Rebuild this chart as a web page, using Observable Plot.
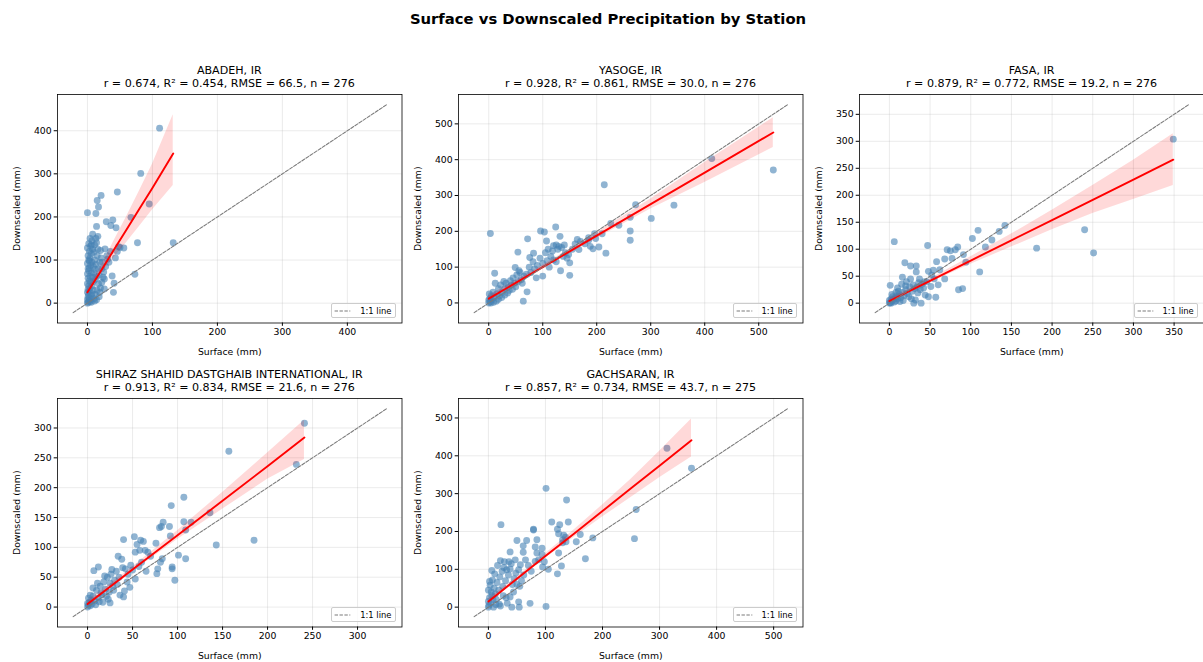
<!DOCTYPE html>
<html>
<head>
<meta charset="utf-8">
<script src="https://cdn.jsdelivr.net/npm/d3@7"></script>
<script src="https://cdn.jsdelivr.net/npm/@observablehq/plot@0.6"></script>
<style>
  html, body { margin: 0; padding: 0; background: #fff; }
  body { width: 1203px; height: 662px; position: relative; overflow: hidden; font-family: "DejaVu Sans", sans-serif; color: #000; }
  .sup { position: absolute; left: 0; width: 1216px; top: 9px; text-align: center; font-weight: bold; font-size: 14.8px; line-height: 20px; }
  .ptitle { position: absolute; text-align: center; font-size: 11.1px; line-height: 13px; white-space: nowrap; transform: translateX(-50%); }
  .panel { position: absolute; }
  .leg { position: absolute; box-sizing: border-box; border: 0.8px solid #cccccc; border-radius: 2px; background: rgba(255,255,255,0.8); font-size: 8.4px; }
  .leg svg { position: absolute; left: 2px; top: 0; }
  .leg span { position: absolute; left: 28px; top: 0; line-height: 14px; white-space: nowrap; }
</style>
</head>
<body>
<div class="sup">Surface vs Downscaled Precipitation by Station</div>
<div id="root"></div>
<script>
// ---------------- DATA ----------------
const stations = ["ABADEH, IR", "YASOGE, IR", "FASA, IR", "SHIRAZ SHAHID DASTGHAIB INTERNATIONAL, IR", "GACHSARAN, IR"];
const statsText = [
  "r = 0.674, R² = 0.454, RMSE = 66.5, n = 276",
  "r = 0.928, R² = 0.861, RMSE = 30.0, n = 276",
  "r = 0.879, R² = 0.772, RMSE = 19.2, n = 276",
  "r = 0.913, R² = 0.834, RMSE = 21.6, n = 276",
  "r = 0.857, R² = 0.734, RMSE = 43.7, n = 275"
];
const xLabel = "Surface (mm)";
const yLabel = "Downscaled (mm)";
const legendLabel = "1:1 line";

const tickValues = [
  [0, 100, 200, 300, 400],
  [0, 100, 200, 300, 400, 500],
  [0, 50, 100, 150, 200, 250, 300, 350],
  [0, 50, 100, 150, 200, 250, 300],
  [0, 100, 200, 300, 400, 500]
];

// 1:1 reference line extents (data units)
const oneToOneLo = [-22, -27, -17.5, -16, -25];
const oneToOneHi = [460, 553, 367.5, 332, 524];

// regression fit and confidence band
const bandX = [
  [0, 20, 40, 60, 80, 100, 132],
  [0, 100, 200, 300, 400, 527],
  [0, 50, 100, 150, 200, 250, 300, 349],
  [0, 50, 100, 150, 200, 241],
  [0, 50, 100, 150, 200, 250, 300, 356]
];
const bandFit = [
  [25, 73, 122, 170, 219, 267, 347],
  [12, 100, 188, 276, 364, 476],
  [4, 41.5, 79, 116.5, 154, 191.5, 229, 266],
  [5, 63, 120.5, 178, 236, 284],
  [15, 75, 135, 194, 254, 314, 374, 441]
];
const bandHi = [
  [32, 82, 142, 200, 260, 322, 437],
  [20, 105, 196, 290, 392, 517],
  [8, 45, 86, 128, 172, 218, 265, 314],
  [10, 67, 128, 192, 258, 313],
  [22, 80, 141, 204, 270, 338, 412, 497]
];
const bandLo = [
  [18, 66, 104, 140, 178, 216, 273],
  [5, 95, 180, 262, 336, 434],
  [0, 38, 72, 104, 136, 166, 192, 218],
  [0, 59, 113, 164, 214, 247],
  [8, 70, 129, 184, 238, 290, 342, 397]
];

// scatter points [surface, downscaled]
const ptsAbadeh = [
  [111,406],[82,301],[95,230],[67,199],[46,258],[21,250],[15,238],[17,223],[0,210],[13,208],[14,178],[29,189],[39,193],[36,180],[44,175],[77,140],[132,140],[56,128],[50,129],[48,131],[43,105],[73,67],[38,63],[41,46],[40,25],[27,126],[26,56],[26,33],[31,102],[20,122],[35,120],[30,110],[33,95],[28,85],[25,72],[22,80],[46,120],
  [0,0],[1,2],[2,5],[0,8],[3,12],[1,15],[4,3],[5,8],[2,20],[0,25],[3,28],[6,18],[1,32],[4,35],[2,40],[0,45],[5,48],[3,52],[7,40],[1,58],[4,62],[0,68],[6,70],[2,75],[8,60],[3,82],[5,88],[0,92],[7,95],[2,100],[9,85],[4,105],[1,110],[6,115],[3,120],[0,128],[8,125],[5,132],[2,138],[7,145],[4,150],[10,70],[12,55],[11,100],[13,90],[15,110],[14,140],[16,155],[9,30],[12,20],[14,8],[18,15],[20,35],[22,48],[17,80],[19,95],[21,105],[24,60],[10,10],[6,2],[15,30],[18,65],[11,135],[13,150],[8,160],[10,118],[16,125],[12,78],[9,50],[17,45],[19,25],[23,95],[6,135],[3,98],[1,80],[11,5],[7,22],[14,62]
];
const ptsYasoge = [
  [413,403],[527,371],[214,330],[272,274],[343,273],[301,236],[262,239],[262,201],[262,175],[226,222],[241,217],[210,193],[217,139],[196,193],[185,175],[188,158],[193,151],[204,156],[164,177],[167,149],[124,212],[132,186],[96,201],[103,198],[107,173],[72,179],[3,194],[54,142],[76,127],[83,139],[133,90],[150,77],[100,75],[71,31],[64,5],[11,83],[49,99],[56,90],
  [120,160],[125,162],[130,158],[135,155],[140,162],[128,150],[118,145],[110,150],[115,130],[120,120],[125,115],[138,130],[145,125],[150,112],[142,140],[148,135],[105,140],[108,118],[112,100],[100,110],[95,125],[90,105],[85,95],[82,115],[78,85],[75,100],[88,70],[70,80],[65,75],[60,65],[58,85],[52,78],[55,60],[48,55],[45,70],[42,50],[40,62],[36,45],[38,35],[32,55],[30,40],[28,60],[25,30],[22,50],[20,20],[18,40],[15,25],[12,55],[10,15],[8,30],[6,8],[5,20],[3,3],[2,12],[1,25],[0,0],[0,8],[4,0],[9,2],[14,5],[18,10],[24,15],[30,22],[35,28],[44,38],[50,45],[62,55],[160,165],[170,172],[178,165],[155,150],[185,182],[198,180]
];
const ptsFasa = [
  [349,304],[240,136],[251,93],[181,102],[142,144],[135,133],[126,117],[118,104],[109,135],[102,120],[111,58],[91,90],[94,76],[90,27],[85,25],[84,104],[81,99],[77,83],[71,99],[75,97],[68,82],[58,77],[60,34],[68,45],[57,11],[47,107],[6,114],[19,75],[26,69],[33,69],[33,58],[16,48],[29,34],[35,19],[39,0],[30,0],[32,6],[1,33],[51,31],[54,61],[52,52],[48,59],[42,28],[44,15],[48,12],[62,62],[55,45],[46,40],[40,35],[38,25],[36,38],[34,30],[31,27],[28,22],[25,30],[22,18],[20,25],[18,14],[16,20],[14,10],[12,16],[10,8],[9,13],[8,4],[7,10],[6,2],[5,7],[4,12],[3,4],[2,8],[1,1],[0,0],[0,5],[2,0],[11,22],[15,35],[21,40],[24,12],[27,8],[10,28],[13,3],[17,5],[37,45],[43,40],[20,32],[26,45],[8,20],[3,16]
];
const ptsShiraz = [
  [241,308],[157,261],[232,239],[185,112],[143,104],[136,158],[107,184],[93,170],[107,143],[115,142],[109,129],[92,119],[91,135],[84,142],[82,135],[80,133],[76,107],[83,81],[81,75],[78,64],[77,56],[94,67],[94,64],[101,87],[109,81],[97,45],[67,92],[64,95],[59,112],[62,110],[52,118],[53,92],[40,113],[34,85],[38,80],[39,66],[42,64],[40,17],[41,27],[47,33],[53,47],[7,61],[12,67],[6,32],[15,24],[23,13],[25,7],[19,52],[27,63],[55,105],[58,95],[60,75],[65,60],[70,85],[48,70],[45,55],[35,50],[30,45],[28,35],[32,60],[25,40],[22,50],[20,30],[18,42],[16,20],[14,35],[12,15],[10,28],[8,10],[6,18],[5,5],[4,12],[3,2],[2,8],[1,15],[0,0],[0,6],[1,3],[3,20],[9,4],[11,40],[13,9],[17,8],[21,18],[24,25],[26,55],[29,28],[33,38],[36,20],[44,42],[50,62],[57,68]
];
const ptsGachsaran = [
  [313,420],[356,367],[259,258],[256,181],[183,183],[161,192],[170,128],[154,173],[137,283],[140,225],[136,173],[132,190],[130,178],[123,194],[125,218],[121,206],[111,225],[101,314],[123,143],[121,88],[128,109],[101,2],[73,10],[53,14],[54,0],[41,0],[22,218],[79,206],[79,204],[85,178],[82,159],[85,143],[94,156],[94,139],[88,125],[82,121],[95,106],[50,176],[67,176],[61,162],[61,145],[38,146],[65,125],[47,125],[38,101],[56,112],[53,99],[32,99],[21,123],[6,97],[31,25],[38,27],[21,3],[13,7],[135,185],[130,170],[105,100],[98,120],[75,95],[70,110],[62,85],[58,70],[55,55],[48,90],[45,75],[42,60],[40,115],[35,85],[30,70],[28,120],[25,55],[24,95],[20,80],[18,45],[16,110],[15,65],[12,35],[11,88],[10,50],[8,20],[7,72],[5,40],[4,10],[3,58],[2,25],[1,5],[0,0],[0,15],[0,45],[2,68],[6,30],[9,0],[14,20],[19,8],[26,30],[33,10],[44,40],[50,60],[27,105],[36,120]
];
const allPoints = [ptsAbadeh, ptsYasoge, ptsFasa, ptsShiraz, ptsGachsaran];

// ---------------- LAYOUT ----------------
const FW = 344.5, FH = 228.5;           // frame size
const ML = 50, MT = 6, MR = 6, MB = 46; // svg margins
const frames = [[57, 94.3], [458.3, 94.3], [859.3, 94.3], [57, 398.3], [458.3, 398.3]];
const root = document.getElementById("root");

stations.forEach((name, i) => {
  const [fl, ft] = frames[i];
  const lo = oneToOneLo[i], hi = oneToOneHi[i], pad = 0.05 * (hi - lo);
  const dom = [lo - pad, hi + pad];
  const band = bandX[i].map((x, j) => ({x, fit: bandFit[i][j], lo: bandLo[i][j], hi: bandHi[i][j]}));
  const ref = [[lo, lo], [hi, hi]];
  const ticks = tickValues[i];

  const plot = Plot.plot({
    width: ML + FW + MR,
    height: MT + FH + MB,
    marginLeft: ML, marginTop: MT, marginRight: MR, marginBottom: MB,
    style: {fontFamily: "DejaVu Sans", fontSize: "9.3px", color: "#000", background: "transparent", overflow: "visible", maxWidth: "none"},
    x: {domain: dom},
    y: {domain: dom},
    marks: [
      Plot.gridX(ticks, {stroke: "#b0b0b0", strokeOpacity: 0.35, strokeWidth: 0.75}),
      Plot.gridY(ticks, {stroke: "#b0b0b0", strokeOpacity: 0.35, strokeWidth: 0.75}),
      Plot.dot(allPoints[i], {x: d => d[0], y: d => d[1], r: 3.45, fill: "#4682b4", fillOpacity: 0.6}),
      Plot.areaY(band, {x: "x", y1: "lo", y2: "hi", fill: "red", fillOpacity: 0.15}),
      Plot.line(band, {x: "x", y: "fit", stroke: "red", strokeWidth: 1.9}),
      Plot.line(ref, {x: d => d[0], y: d => d[1], stroke: "#7a7a7a", strokeWidth: 1.05, strokeDasharray: "3.4,1.5"}),
      Plot.frame({stroke: "#000", strokeWidth: 0.8}),
      Plot.axisX(ticks, {tickSize: 3.3, tickPadding: 2.5, label: null, fontSize: 9.3}),
      Plot.axisY(ticks, {tickSize: 3.3, tickPadding: 2.5, label: null, fontSize: 9.3}),
      Plot.text([xLabel], {text: d => d, frameAnchor: "bottom", dy: 29.5, textAnchor: "middle", lineAnchor: "middle", fontSize: 9.3}),
      Plot.text([yLabel], {text: d => d, frameAnchor: "left", dx: -40.3, rotate: -90, textAnchor: "middle", lineAnchor: "middle", fontSize: 9.3})
    ]
  });

  const div = document.createElement("div");
  div.className = "panel";
  div.style.left = (fl - ML) + "px";
  div.style.top = (ft - MT) + "px";
  div.style.width = (ML + FW + MR) + "px";
  div.appendChild(plot);
  root.appendChild(div);

  const t = document.createElement("div");
  t.className = "ptitle";
  t.style.left = (fl + FW / 2) + "px";
  t.style.top = (ft - 30.5) + "px";
  t.innerHTML = name + "<br>" + statsText[i];
  root.appendChild(t);

  const lg = document.createElement("div");
  lg.className = "leg";
  const lw = 64.6, lh = 15;
  lg.style.left = (fl + FW - 5.7 - lw) + "px";
  lg.style.top = (ft + FH - 4.4 - lh) + "px";
  lg.style.width = lw + "px";
  lg.style.height = lh + "px";
  lg.innerHTML = '<svg width="20" height="14"><line x1="0.6" x2="16.3" y1="7" y2="7" stroke="#7a7a7a" stroke-width="1.05" stroke-dasharray="3.4,1.5"/></svg><span>' + legendLabel + '</span>';
  root.appendChild(lg);
});
</script>
</body>
</html>
